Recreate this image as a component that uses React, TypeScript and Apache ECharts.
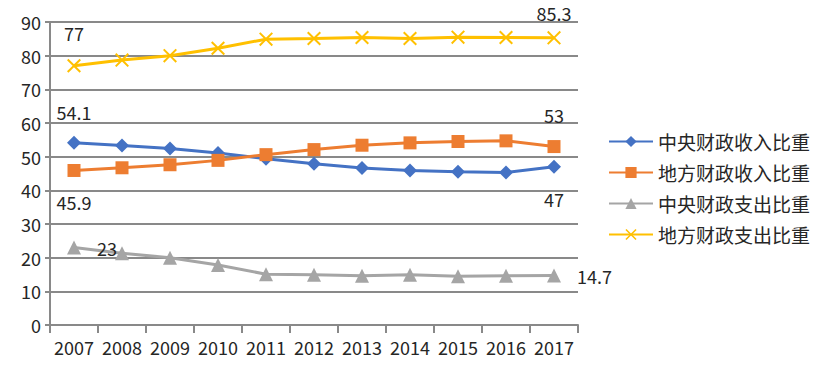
import React, { useEffect, useRef } from "react";
import * as echarts from "echarts";

const years = ["2007", "2008", "2009", "2010", "2011", "2012", "2013", "2014", "2015", "2016", "2017"];
const centralRevenue = [54.1, 53.3, 52.4, 51.1, 49.4, 47.9, 46.6, 45.9, 45.5, 45.3, 47.0];
const localRevenue = [45.9, 46.7, 47.6, 48.9, 50.6, 52.1, 53.4, 54.1, 54.5, 54.7, 53.0];
const centralExpense = [23.0, 21.3, 20.0, 17.8, 15.1, 14.9, 14.6, 14.9, 14.5, 14.6, 14.7];
const localExpense = [77.0, 78.7, 80.0, 82.2, 84.9, 85.1, 85.4, 85.1, 85.5, 85.4, 85.3];
const seriesNames = ["中央财政收入比重", "地方财政收入比重", "中央财政支出比重", "地方财政支出比重"];

const X_PATH = "path://M0,1 L1,0 L5,4 L9,0 L10,1 L6,5 L10,9 L9,10 L5,6 L1,10 L0,9 L4,5 Z";
const FONT = "'Noto Sans CJK SC', 'Noto Sans', sans-serif";
const TEXT = "#262626";

function withLabels(values: number[], labels: Record<number, { position: string; distance: number; text: string }>) {
  return values.map((v, i) => {
    const l = labels[i];
    if (!l) return v;
    return {
      value: v,
      label: {
        show: true,
        position: l.position,
        distance: l.distance,
        color: TEXT,
        fontSize: 18,
        fontFamily: FONT,
        formatter: l.text,
      },
    };
  });
}

export default function App() {
  const ref = useRef<HTMLDivElement>(null);
  useEffect(() => {
    if (!ref.current) return;
    const chart = echarts.init(ref.current, undefined, { renderer: "svg" });
    const last = years.length - 1;
    chart.setOption({
      animation: false,
      backgroundColor: "#ffffff",
      textStyle: { fontFamily: FONT },
      grid: { left: 50, right: 253, top: 22, bottom: 52, containLabel: false },
      legend: {
        orient: "vertical",
        left: 603,
        top: 127,
        itemGap: 12,
        itemWidth: 44,
        itemHeight: 14,
        textStyle: { fontSize: 19, color: TEXT, fontFamily: FONT },
        data: seriesNames,
      },
      xAxis: {
        type: "category",
        data: years,
        boundaryGap: true,
        axisLine: { lineStyle: { color: "#898989", width: 2 } },
        axisTick: { show: true, length: 8, interval: 0, lineStyle: { color: "#898989", width: 2 } },
        axisLabel: { fontSize: 18, color: TEXT, margin: 13, interval: 0, fontFamily: FONT, hideOverlap: false },
      },
      yAxis: {
        type: "value",
        min: 0,
        max: 90,
        interval: 10,
        axisLine: { show: true, lineStyle: { color: "#898989", width: 2 } },
        axisTick: { show: true, length: 5, lineStyle: { color: "#898989", width: 2 } },
        axisLabel: { fontSize: 18, color: TEXT, margin: 9, fontFamily: FONT },
        splitLine: { lineStyle: { color: "#898989", width: 2 } },
      },
      series: [
        {
          name: seriesNames[0],
          type: "line",
          data: withLabels(centralRevenue, {
            0: { position: "top", distance: 15, text: "54.1" },
            [last]: { position: "bottom", distance: 16, text: "47" },
          }),
          symbol: "diamond",
          symbolSize: 14,
          lineStyle: { color: "#4472C4", width: 3 },
          itemStyle: { color: "#4472C4" },
          color: "#4472C4",
        },
        {
          name: seriesNames[1],
          type: "line",
          data: withLabels(localRevenue, {
            0: { position: "bottom", distance: 16, text: "45.9" },
            [last]: { position: "top", distance: 16, text: "53" },
          }),
          symbol: "rect",
          symbolSize: 13,
          lineStyle: { color: "#ED7D31", width: 3 },
          itemStyle: { color: "#ED7D31" },
          color: "#ED7D31",
        },
        {
          name: seriesNames[2],
          type: "line",
          data: withLabels(centralExpense, {
            0: { position: "right", distance: 16, text: "23" },
            [last]: { position: "right", distance: 16, text: "14.7" },
          }),
          symbol: "triangle",
          symbolSize: 14,
          lineStyle: { color: "#A5A5A5", width: 3 },
          itemStyle: { color: "#A5A5A5" },
          color: "#A5A5A5",
        },
        {
          name: seriesNames[3],
          type: "line",
          data: withLabels(localExpense, {
            0: { position: "top", distance: 17, text: "77" },
            [last]: { position: "top", distance: 9, text: "85.3" },
          }),
          symbol: X_PATH,
          symbolSize: 14,
          lineStyle: { color: "#FFC000", width: 3 },
          itemStyle: { color: "#FFC000" },
          color: "#FFC000",
        },
      ],
    });
    return () => chart.dispose();
  }, []);
  return <div ref={ref} style={{ width: 831, height: 377, position: "absolute", left: 0, top: 0 }} />;
}
